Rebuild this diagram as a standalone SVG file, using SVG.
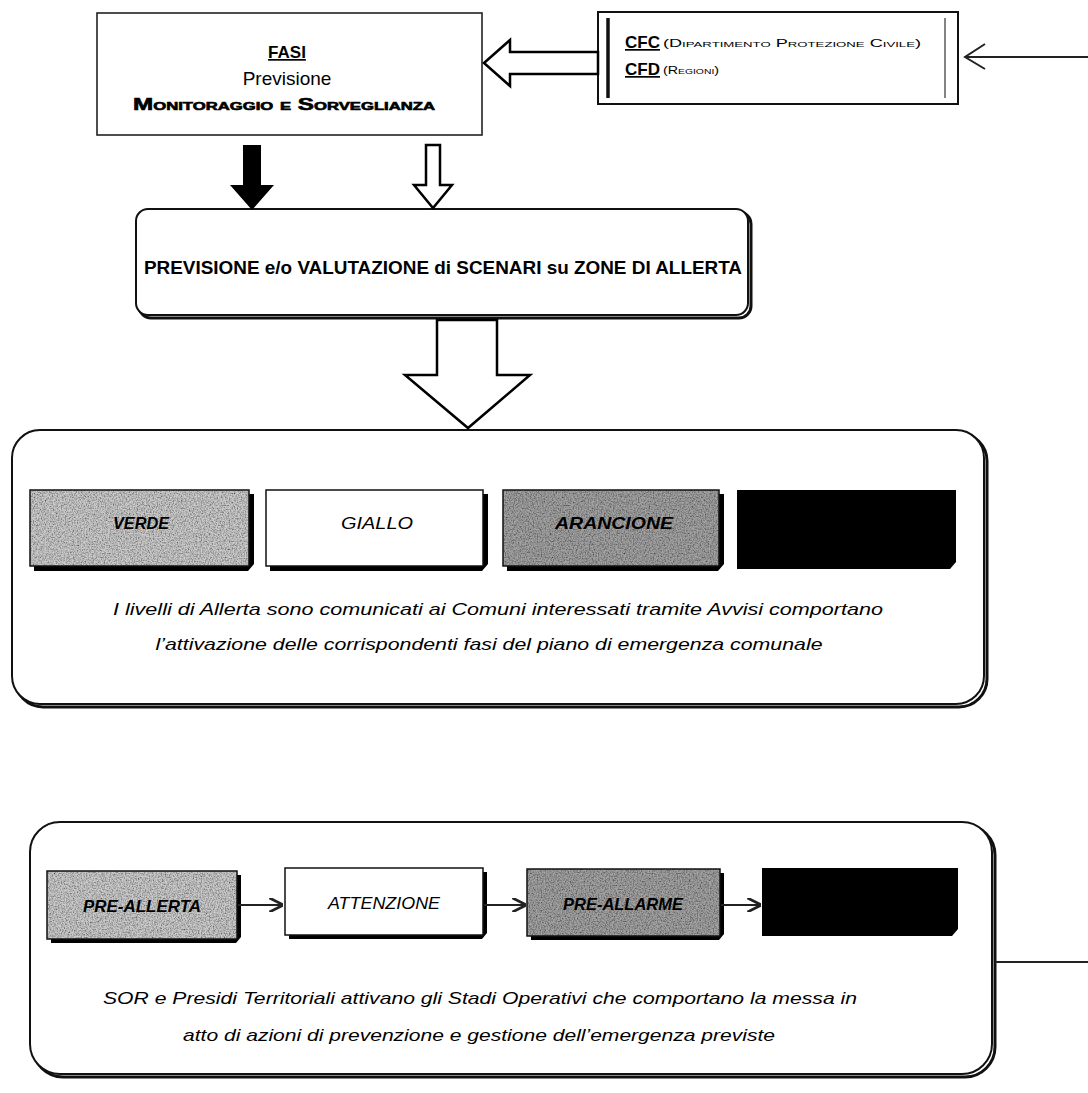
<svg xmlns="http://www.w3.org/2000/svg" width="1088" height="1093" viewBox="0 0 1088 1093">
<defs>
<style>
.box{fill:#fff;stroke:#111;stroke-width:2}
.shadow{fill:none;stroke:#111;stroke-width:3}
.t{font-family:"Liberation Sans",Arial,sans-serif;fill:#000}
.b{font-weight:bold}
.i{font-style:italic}
.light{fill:#cdcdcd}
.dark{fill:#a4a4a4}
.blk{fill:#000}
.edge{fill:none;stroke:#111;stroke-width:1.5}
.conn{stroke:#222;stroke-width:2;fill:none}
.hollow{fill:#fff;stroke:#000;stroke-width:2.5;stroke-linejoin:miter}
.lbl{font-size:17px;text-anchor:middle}
.para{font-size:17px;text-anchor:middle}
</style>
<filter id="grain" x="0" y="0" width="100%" height="100%">
<feTurbulence type="fractalNoise" baseFrequency="0.75" numOctaves="2" seed="3" result="n"/>
<feColorMatrix in="n" type="matrix" values="0 0 0 0 0  0 0 0 0 0  0 0 0 0 0  1.6 0 0 0 -0.55" result="d"/>
<feComposite in="d" in2="SourceGraphic" operator="in" result="d2"/>
<feMerge><feMergeNode in="SourceGraphic"/><feMergeNode in="d2"/></feMerge>
</filter>
<marker id="ah" viewBox="0 0 10 10" refX="9" refY="5" markerWidth="7" markerHeight="7" orient="auto">
<path d="M0,0 L10,5 L0,10" fill="none" stroke="#222" stroke-width="2"/>
</marker>
</defs>
<rect width="1088" height="1093" fill="#fff"/>

<g id="fasi">
<rect x="97" y="13" width="385" height="122" fill="#fff" stroke="#222" stroke-width="1.6"/>
<text class="t b" x="287" y="58" font-size="17" text-anchor="middle" text-decoration="underline">FASI</text>
<text class="t" x="287" y="85" font-size="19" text-anchor="middle">Previsione</text>
<text class="t b" x="284" y="110" font-size="16" text-anchor="middle" style="font-variant:small-caps" textLength="302" lengthAdjust="spacingAndGlyphs" stroke="#000" stroke-width="0.6">Monitoraggio e Sorveglianza</text>
</g>

<g id="cfc">
<rect x="598" y="12" width="360" height="92" fill="#fff" stroke="#111" stroke-width="2"/>
<line x1="608" y1="18" x2="608" y2="98" stroke="#111" stroke-width="3.5"/>
<line x1="945" y1="18" x2="945" y2="98" stroke="#333" stroke-width="1.2"/>
<text class="t b" x="625" y="48" font-size="17" text-decoration="underline">CFC</text>
<text class="t" x="663" y="47" font-size="11" fill="#555" style="font-variant:small-caps" textLength="258" lengthAdjust="spacingAndGlyphs">(Dipartimento Protezione Civile)</text>
<text class="t b" x="625" y="75" font-size="17" text-decoration="underline">CFD</text>
<text class="t" x="663" y="74" font-size="11" fill="#555" style="font-variant:small-caps" textLength="56" lengthAdjust="spacingAndGlyphs">(Regioni)</text>
</g>

<g id="scenari">
<rect x="139" y="212" width="612" height="106" rx="12" class="shadow"/>
<rect x="136" y="209" width="612" height="106" rx="12" class="box"/>
<text class="t b" x="443" y="274" font-size="19" text-anchor="middle" textLength="598" lengthAdjust="spacingAndGlyphs">PREVISIONE e/o VALUTAZIONE di SCENARI su ZONE DI ALLERTA</text>
</g>

<g id="livelli">
<rect x="15" y="433" width="972" height="274" rx="28" class="shadow"/>
<rect x="12" y="430" width="972" height="274" rx="28" class="box"/>
<g id="verde">
<path d="M34,494 H254 V564 L248,571 H34 Z" class="blk"/>
<rect x="30" y="490" width="219" height="76" class="light" filter="url(#grain)"/>
<rect x="30" y="490" width="219" height="76" class="edge"/>
<text class="t b i lbl" x="141" y="529" textLength="56" lengthAdjust="spacingAndGlyphs">VERDE</text>
</g>
<g id="giallo">
<path d="M270,494 H488 V564 L482,571 H270 Z" class="blk"/>
<rect x="266" y="490" width="217" height="76" class="edge" style="fill:#fff"/>
<text class="t i lbl" x="377" y="529" textLength="72" lengthAdjust="spacingAndGlyphs">GIALLO</text>
</g>
<g id="arancione">
<path d="M507,494 H724 V564 L718,571 H507 Z" class="blk"/>
<rect x="503" y="490" width="216" height="76" class="dark" filter="url(#grain)"/>
<rect x="503" y="490" width="216" height="76" class="edge"/>
<text class="t b i lbl" x="614" y="529" textLength="118" lengthAdjust="spacingAndGlyphs">ARANCIONE</text>
</g>
<g id="rosso">
<path d="M737,490 H956 V562 L950,569 H737 Z" class="blk"/>
</g>
<text class="t i para" x="498" y="615" textLength="770" lengthAdjust="spacingAndGlyphs">I livelli di Allerta sono comunicati ai Comuni interessati tramite Avvisi comportano</text>
<text class="t i para" x="489" y="650" textLength="667" lengthAdjust="spacingAndGlyphs">l’attivazione delle corrispondenti fasi del piano di emergenza comunale</text>
</g>

<g id="stadi">
<rect x="33" y="825" width="962" height="252" rx="30" class="shadow"/>
<rect x="30" y="822" width="962" height="252" rx="30" class="box"/>
<g id="preallerta">
<path d="M51,875 H241 V937 L236,943 H51 Z" class="blk"/>
<rect x="47" y="871" width="190" height="68" class="light" filter="url(#grain)"/>
<rect x="47" y="871" width="190" height="68" class="edge"/>
<text class="t b i lbl" x="142" y="912" textLength="118" lengthAdjust="spacingAndGlyphs">PRE-ALLERTA</text>
</g>
<g id="attenzione">
<path d="M289,872 H487 V933 L482,939 H289 Z" class="blk"/>
<rect x="285" y="868" width="198" height="67" class="edge" style="fill:#fff"/>
<text class="t i lbl" x="384" y="909" textLength="112" lengthAdjust="spacingAndGlyphs">ATTENZIONE</text>
</g>
<g id="preallarme">
<path d="M531,873 H724 V934 L719,940 H531 Z" class="blk"/>
<rect x="527" y="869" width="193" height="67" class="dark" filter="url(#grain)"/>
<rect x="527" y="869" width="193" height="67" class="edge"/>
<text class="t b i lbl" x="623" y="910" textLength="120" lengthAdjust="spacingAndGlyphs">PRE-ALLARME</text>
</g>
<g id="allarme">
<path d="M762,868 H958 V929 L952,936 H762 Z" class="blk"/>
</g>
<text class="t i para" x="480" y="1004" textLength="754" lengthAdjust="spacingAndGlyphs">SOR e Presidi Territoriali attivano gli Stadi Operativi che comportano la messa in</text>
<text class="t i para" x="479" y="1041" textLength="592" lengthAdjust="spacingAndGlyphs">atto di azioni di prevenzione e gestione dell’emergenza previste</text>
</g>

<g id="connectors">
<polygon class="hollow" points="484,63 510,40 510,52 598,52 598,74 510,74 510,86"/>
<line class="conn" x1="1088" y1="57" x2="965" y2="57"/>
<path class="conn" d="M985,44 L965,57 L985,69"/>
<polygon points="243,145 261,145 261,185 274,185 252,210 230,185 243,185" fill="#000"/>
<polygon class="hollow" points="426,145 440,145 440,185 452,185 433,208 414,185 426,185" stroke-width="2"/>
<polygon class="hollow" points="437,320 497,320 497,375 530,375 468,428 405,375 437,375" stroke-width="3"/>
<line class="conn" x1="238" y1="905" x2="282" y2="905" marker-end="url(#ah)"/>
<line class="conn" x1="484" y1="905" x2="525" y2="905" marker-end="url(#ah)"/>
<line class="conn" x1="721" y1="905" x2="760" y2="905" marker-end="url(#ah)"/>
<line class="conn" x1="995" y1="962" x2="1088" y2="962"/>
</g>
</svg>
